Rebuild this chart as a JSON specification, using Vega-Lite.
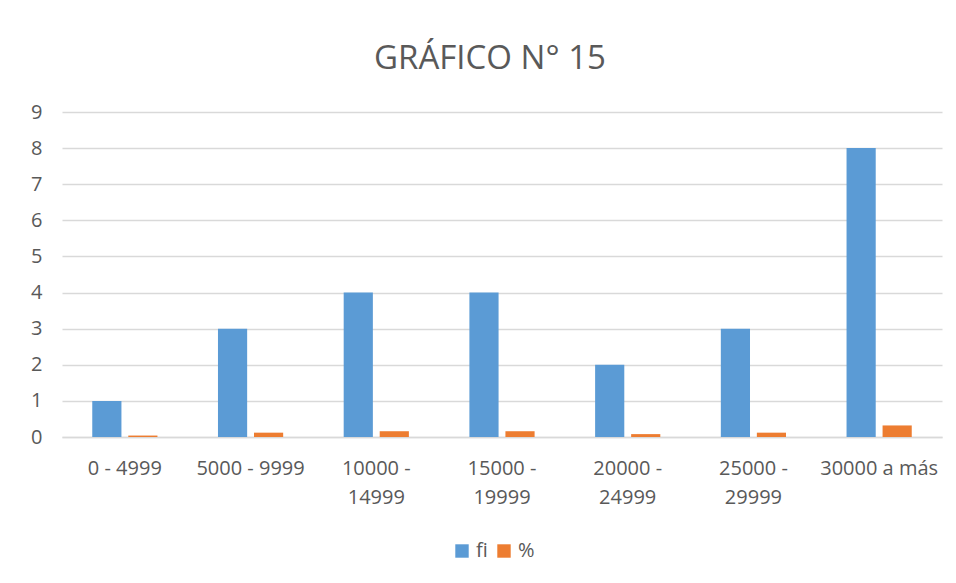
{
  "$schema": "https://vega.github.io/schema/vega-lite/v6.json",
  "autosize": "none",
  "width": 880,
  "height": 325,
  "padding": {"left": 62, "top": 112, "right": 14, "bottom": 146},
  "background": "white",
  "title": {
    "text": "GRÁFICO N° 15",
    "font": "Open Sans",
    "fontSize": 33,
    "fontWeight": "normal",
    "color": "#595959",
    "anchor": "middle",
    "baseline": "alphabetic",
    "offset": 0,
    "dx": -12
  },
  "data": {
    "values": [
      {"rango": "0 - 4999", "serie": "fi", "valor": 1},
      {"rango": "0 - 4999", "serie": "%", "valor": 0.04},
      {"rango": "5000 - 9999", "serie": "fi", "valor": 3},
      {"rango": "5000 - 9999", "serie": "%", "valor": 0.12},
      {"rango": "10000 - 14999", "serie": "fi", "valor": 4},
      {"rango": "10000 - 14999", "serie": "%", "valor": 0.16},
      {"rango": "15000 - 19999", "serie": "fi", "valor": 4},
      {"rango": "15000 - 19999", "serie": "%", "valor": 0.16},
      {"rango": "20000 - 24999", "serie": "fi", "valor": 2},
      {"rango": "20000 - 24999", "serie": "%", "valor": 0.08},
      {"rango": "25000 - 29999", "serie": "fi", "valor": 3},
      {"rango": "25000 - 29999", "serie": "%", "valor": 0.12},
      {"rango": "30000 a más", "serie": "fi", "valor": 8},
      {"rango": "30000 a más", "serie": "%", "valor": 0.32}
    ]
  },
  "mark": {"type": "bar"},
  "encoding": {
    "x": {
      "field": "rango",
      "type": "nominal",
      "sort": null,
      "scale": {"paddingInner": 0, "paddingOuter": 0},
      "axis": {
        "title": null,
        "labelAngle": 0,
        "ticks": false,
        "domain": true,
        "domainColor": "#d9d9d9",
        "domainWidth": 1.5,
        "labelFont": "Open Sans",
        "labelFontSize": 20,
        "labelColor": "#595959",
        "labelPadding": 21,
        "labelLineHeight": 29,
        "labelBaseline": "top",
        "labelExpr": "length(datum.label) > 11 ? [slice(datum.label, 0, 7), slice(datum.label, 8)] : datum.label"
      }
    },
    "xOffset": {
      "field": "serie",
      "type": "nominal",
      "sort": ["fi", "%"],
      "scale": {"paddingInner": 0.19, "paddingOuter": 0.84}
    },
    "y": {
      "field": "valor",
      "type": "quantitative",
      "scale": {"domain": [0, 9], "nice": false},
      "axis": {
        "title": null,
        "values": [0, 1, 2, 3, 4, 5, 6, 7, 8, 9],
        "ticks": false,
        "domain": false,
        "grid": true,
        "gridColor": "#d9d9d9",
        "gridWidth": 1.5,
        "labelFont": "Open Sans",
        "labelFontSize": 20,
        "labelColor": "#595959",
        "labelPadding": 20
      }
    },
    "color": {
      "field": "serie",
      "type": "nominal",
      "sort": ["fi", "%"],
      "scale": {"domain": ["fi", "%"], "range": ["#5b9bd5", "#ed7d31"]},
      "legend": {
        "title": null,
        "orient": "none",
        "legendX": 390,
        "legendY": 429,
        "direction": "horizontal",
        "symbolType": "square",
        "symbolSize": 180,
        "symbolStrokeWidth": 0,
        "labelFont": "Open Sans",
        "labelFontSize": 20,
        "labelColor": "#595959",
        "labelOffset": 4,
        "columnPadding": 6
      }
    }
  },
  "config": {
    "view": {"stroke": null}
  }
}
